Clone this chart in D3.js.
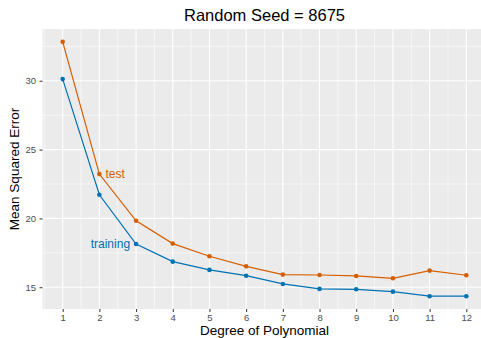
<!DOCTYPE html>
<html><head><meta charset="utf-8">
<script src="https://cdn.jsdelivr.net/npm/d3@7"></script>
<style>body{margin:0;background:#fff}svg{display:block}text{font-family:"Liberation Sans",Arial,sans-serif}</style>
</head><body>
<svg id="c" width="481" height="338"></svg>
<script>
const degrees = [1,2,3,4,5,6,7,8,9,10,11,12];
const testMSE = [32.83,23.22,19.83,18.17,17.25,16.52,15.92,15.89,15.82,15.65,16.21,15.87];
const trainMSE = [30.12,21.72,18.14,16.86,16.26,15.84,15.24,14.88,14.85,14.68,14.35,14.35];
const yTicks = [15,20,25,30];
const xTicks = degrees;
const seriesNames = ["test","training"];
const colors = ["#D55E00","#0072B2"];

const svg = d3.select("#c");
const L = 42.5, R = 486.5, T = 29, B = 309;
const x = d3.scaleLinear().domain([0.45,12.55]).range([L,R]);
const y = d3.scaleLinear().domain([13.42,33.76]).range([B,T]);

svg.append("rect").attr("x",L).attr("y",T).attr("width",R-L).attr("height",B-T).attr("fill","#EBEBEB");
const g = svg.append("g");
const xMinor = d3.range(0.5,13,1), yMinor = [17.5,22.5,27.5,32.5];
g.selectAll(".xm").data(xMinor).join("line").attr("x1",d=>x(d)).attr("x2",d=>x(d)).attr("y1",T).attr("y2",B).attr("stroke","#fff").attr("stroke-width",0.55);
g.selectAll(".ym").data(yMinor).join("line").attr("x1",L).attr("x2",R).attr("y1",d=>y(d)).attr("y2",d=>y(d)).attr("stroke","#fff").attr("stroke-width",0.55);
g.selectAll(".xM").data(xTicks).join("line").attr("x1",d=>x(d)).attr("x2",d=>x(d)).attr("y1",T).attr("y2",B).attr("stroke","#fff").attr("stroke-width",1.1);
g.selectAll(".yM").data(yTicks).join("line").attr("x1",L).attr("x2",R).attr("y1",d=>y(d)).attr("y2",d=>y(d)).attr("stroke","#fff").attr("stroke-width",1.1);

const xa = svg.append("g").attr("transform",`translate(0,${B})`).call(d3.axisBottom(x).tickValues(xTicks).tickSize(3).tickPadding(2.5).tickFormat(d3.format("d")));
const ya = svg.append("g").attr("transform",`translate(${L},0)`).call(d3.axisLeft(y).tickValues(yTicks).tickSize(3).tickPadding(3.5));
[xa,ya].forEach(a=>{a.select(".domain").remove();a.selectAll("line").attr("stroke","#333").attr("stroke-width",1);a.selectAll("text").attr("fill","#4D4D4D").attr("font-size",9.5).style("font-family","Liberation Sans, Arial, sans-serif");});

const series = [testMSE, trainMSE];
const line = d3.line().x((d,i)=>x(degrees[i])).y(d=>y(d));
series.forEach((s,k)=>{
  svg.append("path").datum(s).attr("d",line).attr("fill","none").attr("stroke",colors[k]).attr("stroke-width",1.2);
  svg.selectAll(".p"+k).data(s).join("circle").attr("cx",(d,i)=>x(degrees[i])).attr("cy",d=>y(d)).attr("r",2.3).attr("fill",colors[k]);
});
svg.append("text").attr("x",x(2)+6).attr("y",y(testMSE[1])+4).attr("fill",colors[0]).attr("font-size",12).text(seriesNames[0]);
svg.append("text").attr("x",x(3)-6).attr("y",y(trainMSE[2])+4).attr("text-anchor","end").attr("fill",colors[1]).attr("font-size",12).text(seriesNames[1]);

svg.append("text").attr("x",(L+R)/2).attr("y",21).attr("text-anchor","middle").attr("font-size",16.5).attr("fill","#000").text("Random Seed = 8675");
svg.append("text").attr("x",(L+R)/2).attr("y",335).attr("text-anchor","middle").attr("font-size",13.5).attr("fill","#000").text("Degree of Polynomial");
svg.append("text").attr("transform",`translate(19,${(T+B)/2}) rotate(-90)`).attr("text-anchor","middle").attr("font-size",13.5).attr("fill","#000").text("Mean Squared Error");
</script>
</body></html>
